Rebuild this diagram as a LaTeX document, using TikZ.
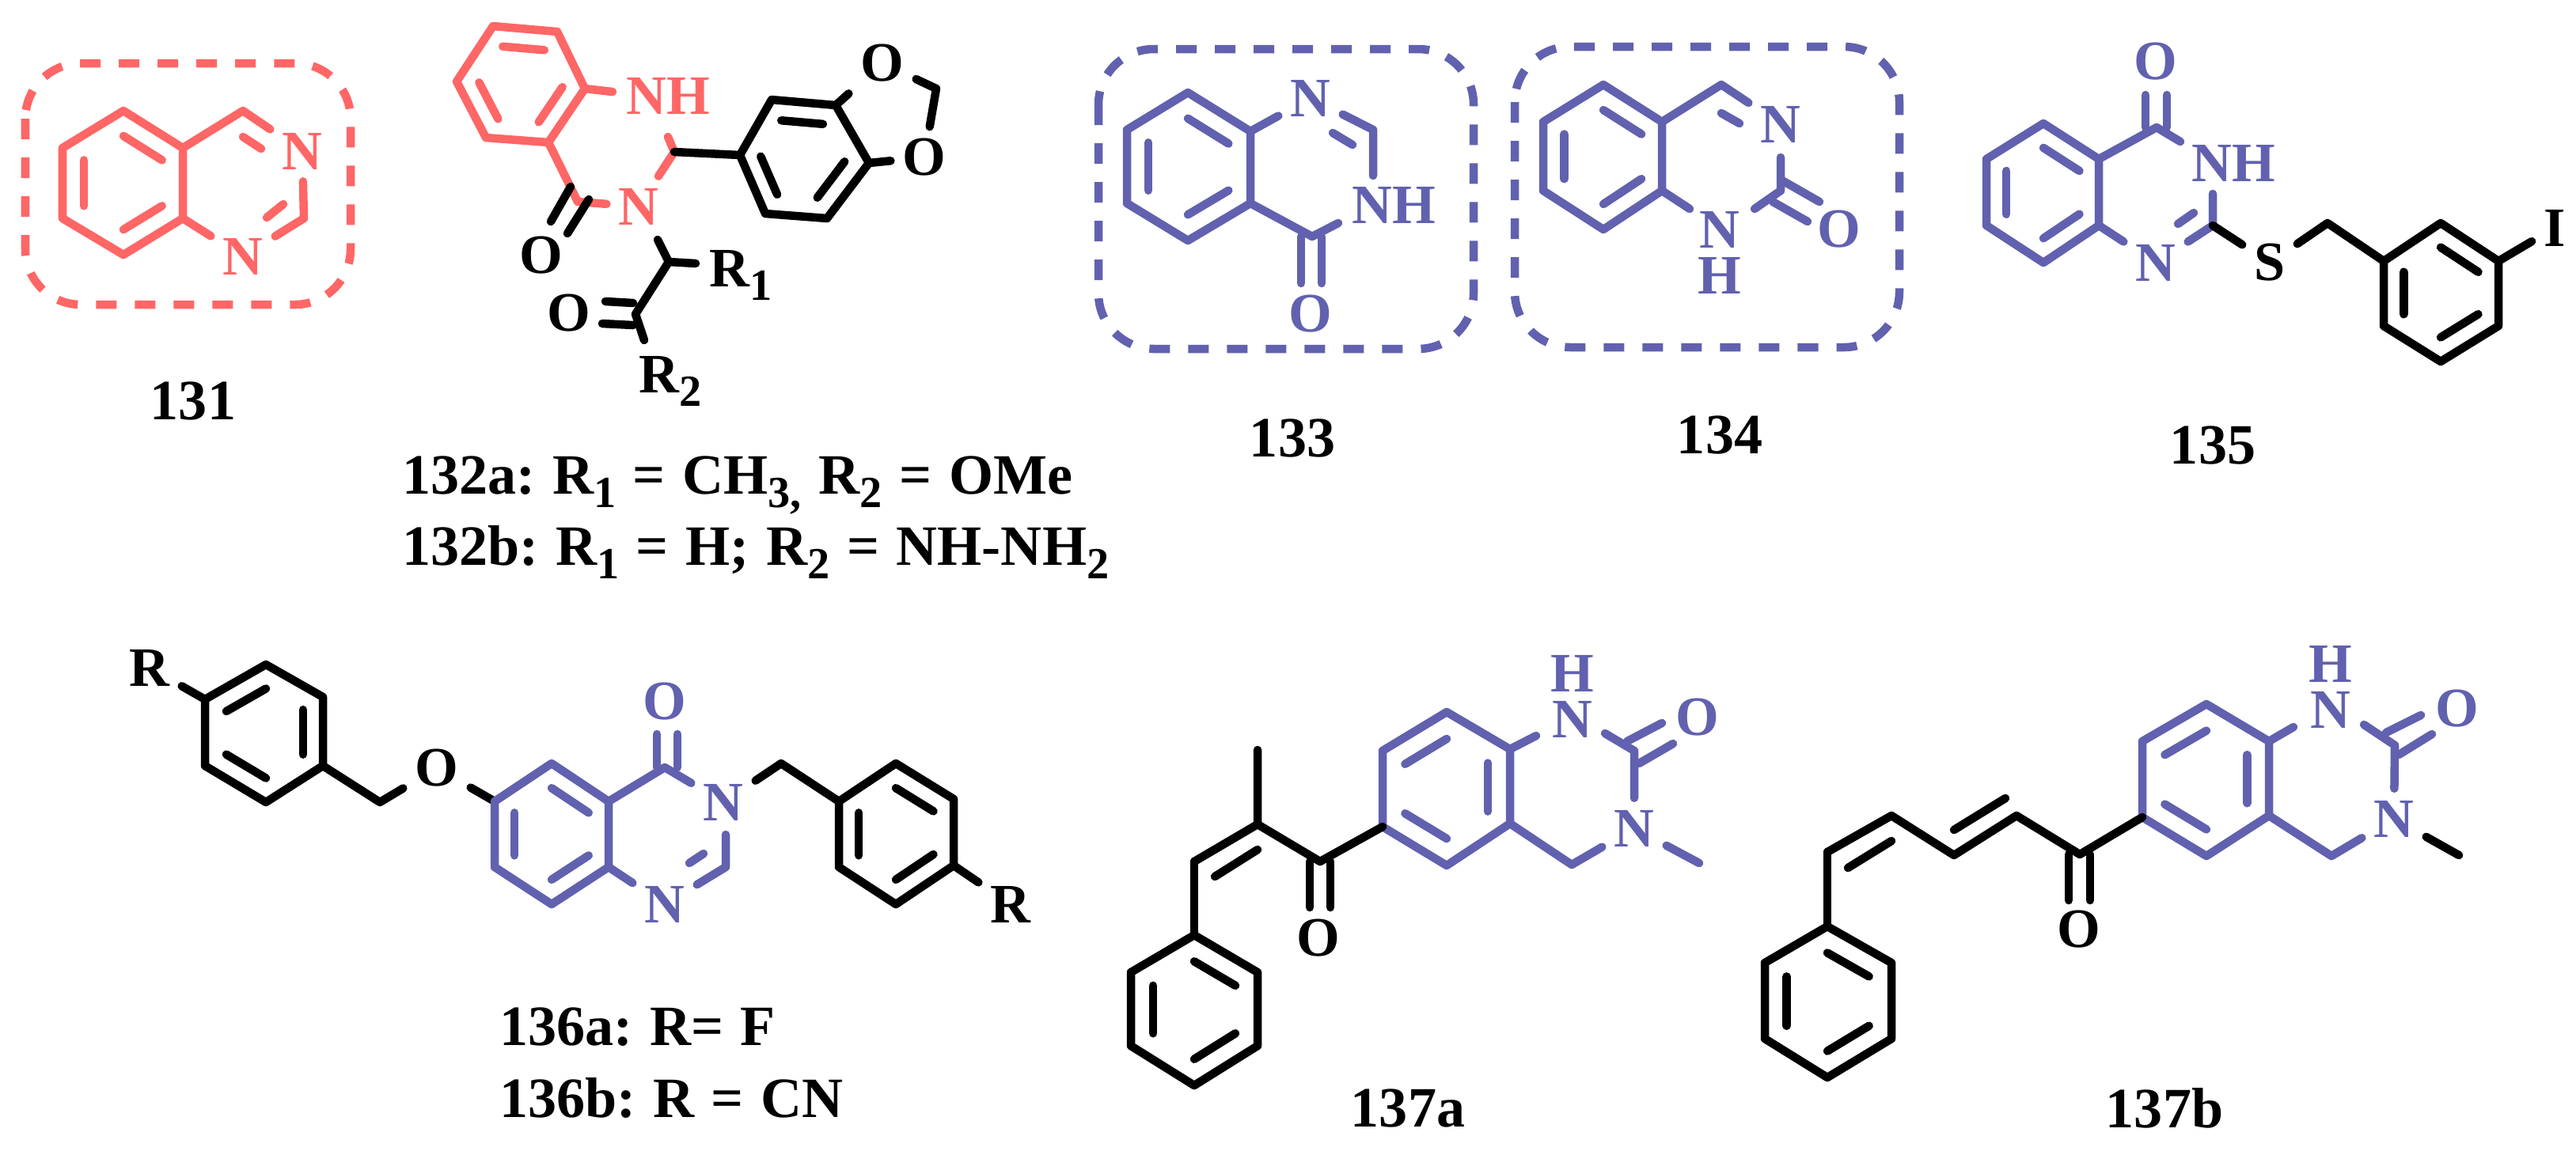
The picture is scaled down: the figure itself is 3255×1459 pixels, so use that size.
\documentclass[tikz,border=0pt]{standalone}
\usepackage{fontspec}
\setmainfont{Liberation Serif}
\usetikzlibrary{calc}
\definecolor{molred}{HTML}{FF6666}
\definecolor{molblue}{HTML}{6161AF}
\newcommand{\subs}[1]{\raisebox{-0.17cm}{\fontsize{16pt}{16pt}\selectfont #1}}
\tikzset{
	atom/.style={font=\fontsize{20pt}{24pt}\selectfont\bfseries,inner sep=0.1cm},
	stack/.style={atom,align=center,font=\fontsize{20pt}{16.5pt}\selectfont\bfseries},
	cpd/.style={font=\fontsize{20.5pt}{24pt}\selectfont\bfseries,inner sep=0pt},
	cpdline/.style={cpd,anchor=base west,execute at begin node={\frenchspacing\spaceskip=0.3em\relax}},
	boxdash/.style={line cap=butt,rounded corners=0.7cm,dash pattern=on 0.26cm off 0.23cm},
}
\begin{document}
\begin{tikzpicture}[x=0.01cm,y=-0.01cm,line width=0.105cm,line cap=round,line join=round]
\useasboundingbox (0,0) rectangle (3255,1459);
\begin{scope}
		% 131
		\coordinate (A) at (156,140);
		\coordinate (B) at (231,187);
		\coordinate (C) at (231,276);
		\coordinate (D) at (156,322);
		\coordinate (E) at (79,276);
		\coordinate (F) at (79,187);
		\coordinate (Z) at ($(A)!0.5!(D)$);
		\coordinate (G) at (307,140);
		\coordinate (H) at (384,276);
		\coordinate (I) at (307,173);
		\coordinate (J) at (330,188);
		\coordinate (K) at (337,275);
		\coordinate (L) at (358,258);
		\coordinate (P) at (32,80);
		\coordinate (Q) at (443,385);
		\node[atom,molred] (N1) at (382,191) {N};
		\node[atom,molred] (N2) at (307,324) {N};
		\draw[molred] (A) -- (B) -- (C) -- (D) -- (E) -- (F) -- cycle;
		\draw[molred] ($(A)!0.35!(Z)$) -- ($(B)!0.35!(Z)$);
		\draw[molred] ($(C)!0.35!(Z)$) -- ($(D)!0.35!(Z)$);
		\draw[molred] ($(E)!0.35!(Z)$) -- ($(F)!0.35!(Z)$);
		\draw[molred] (B) -- (G) -- (N1);
		\draw[molred] (N1) -- (H) -- (N2);
		\draw[molred] (C) -- (N2);
		\draw[molred] (I) -- (J);
		\draw[molred] (K) -- (L);
		\draw[molred,boxdash] (P) rectangle (Q);
		\node[cpd] (T131) at (244,507) {131};
\end{scope}
\begin{scope}
		% 132
		\coordinate (A) at (623,33);
		\coordinate (B) at (704,40);
		\coordinate (C) at (739,112);
		\coordinate (D) at (693,180);
		\coordinate (E) at (614,174);
		\coordinate (F) at (577,103);
		\coordinate (Z) at ($(A)!0.5!(D)$);
		\coordinate (G) at (774,116);
		\coordinate (H) at (730,255);
		\coordinate (I) at (852,192);
		\coordinate (J) at (844,173);
		\coordinate (K) at (721,236);
		\coordinate (L) at (696,280);
		\coordinate (M) at (744,252);
		\coordinate (P) at (717,295);
		\node[atom,molred] (NH1) at (844,121) {NH};
		\node[atom,molred] (N1) at (807,261) {N};
		\node[atom] (O1) at (684,323) {O};
		\draw[molred] (A) -- (B) -- (C) -- (D) -- (E) -- (F) -- cycle;
		\draw[molred] ($(A)!0.35!(Z)$) -- ($(B)!0.35!(Z)$);
		\draw[molred] ($(C)!0.35!(Z)$) -- ($(D)!0.35!(Z)$);
		\draw[molred] ($(E)!0.35!(Z)$) -- ($(F)!0.35!(Z)$);
		\draw[molred] (C) -- (G);
		\draw[molred] (D) -- (H) -- (N1);
		\draw[molred] (N1) -- (I) -- (J);
		\draw (K) -- (L);
		\draw (M) -- (P);
		% right part, black
		\coordinate (A) at (975,126);
		\coordinate (B) at (1056,133);
		\coordinate (C) at (1098,206);
		\coordinate (D) at (1045,276);
		\coordinate (E) at (967,270);
		\coordinate (F) at (935,196);
		\coordinate (Z) at ($(A)!0.5!(D)$);
		\coordinate (G) at (1183,112);
		\node[atom] (O2) at (1115,80) {O};
		\node[atom] (O3) at (1168,199) {O};
		\draw (A) -- (B) -- (C) -- (D) -- (E) -- (F) -- cycle;
		\draw ($(A)!0.35!(Z)$) -- ($(B)!0.35!(Z)$);
		\draw ($(C)!0.35!(Z)$) -- ($(D)!0.35!(Z)$);
		\draw ($(E)!0.35!(Z)$) -- ($(F)!0.35!(Z)$);
		\draw (I) -- (F);
		\draw (B) -- (O2);
		\draw (O2) -- (G) -- (O3);
		\draw (C) -- (O3);
		% side chain
		\coordinate (H) at (831,303);
		\coordinate (I) at (845,331);
		\coordinate (J) at (879,333);
		\coordinate (K) at (803,397);
		\coordinate (L) at (814,430);
		\coordinate (M) at (765,381);
		\coordinate (P) at (800,383);
		\coordinate (Q) at (761,409);
		\coordinate (R) at (800,411);
		\node[atom,anchor=base] (R1) at (936,362) {R\subs{1}};
		\node[atom,anchor=base] (R2) at (847,496) {R\subs{2}};
		\node[atom] (O4) at (719,396) {O};
		\draw (H) -- (I) -- (J);
		\draw (I) -- (K) -- (L);
		\draw (M) -- (P);
		\draw (Q) -- (R);
		\node[cpdline] (T132a) at (503,624) {132a: R\subs{1} = CH\subs{3,} R\subs{2} = OMe};
		\node[cpdline] (T132b) at (503,714) {132b: R\subs{1} = H; R\subs{2} = NH-NH\subs{2}};
\end{scope}
\begin{scope}
		% 133
		\coordinate (A) at (1501,117);
		\coordinate (B) at (1580,166);
		\coordinate (C) at (1580,257);
		\coordinate (D) at (1501,304);
		\coordinate (E) at (1424,257);
		\coordinate (F) at (1424,164);
		\coordinate (Z) at ($(A)!0.5!(D)$);
		\coordinate (G) at (1735,164);
		\coordinate (H) at (1735,222);
		\coordinate (I) at (1684,168);
		\coordinate (J) at (1709,183);
		\coordinate (K) at (1658,299);
		\coordinate (L) at (1691,282);
		\coordinate (M) at (1644,299);
		\coordinate (P) at (1644,358);
		\coordinate (Q) at (1670,299);
		\coordinate (R) at (1670,358);
		\coordinate (S) at (1388,62);
		\coordinate (T) at (1862,441);
		\node[atom,molblue] (N1) at (1656,124) {N};
		\node[atom,molblue] (NH1) at (1761,259) {NH};
		\node[atom,molblue] (O1) at (1656,397) {O};
		\draw[molblue] (A) -- (B) -- (C) -- (D) -- (E) -- (F) -- cycle;
		\draw[molblue] ($(A)!0.35!(Z)$) -- ($(B)!0.35!(Z)$);
		\draw[molblue] ($(C)!0.35!(Z)$) -- ($(D)!0.35!(Z)$);
		\draw[molblue] ($(E)!0.35!(Z)$) -- ($(F)!0.35!(Z)$);
		\draw[molblue] (B) -- (N1);
		\draw[molblue] (N1) -- (G) -- (H);
		\draw[molblue] (I) -- (J);
		\draw[molblue] (C) -- (K) -- (L);
		\draw[molblue] (M) -- (P);
		\draw[molblue] (Q) -- (R);
		\draw[molblue,boxdash] (S) rectangle (T);
		\node[cpd] (T133) at (1633,554) {133};
\end{scope}
\begin{scope}
		% 134
		\coordinate (A) at (2026,107);
		\coordinate (B) at (2100,154);
		\coordinate (C) at (2100,241);
		\coordinate (D) at (2026,290);
		\coordinate (E) at (1950,241);
		\coordinate (F) at (1950,154);
		\coordinate (Z) at ($(A)!0.5!(D)$);
		\coordinate (G) at (2175,107);
		\coordinate (I) at (2175,143);
		\coordinate (J) at (2198,156);
		\coordinate (H) at (2250,199);
		\coordinate (K) at (2250,241);
		\coordinate (L) at (2250,227);
		\coordinate (M) at (2299,255);
		\coordinate (P) at (2240,255);
		\coordinate (Q) at (2284,280);
		\coordinate (R) at (2135,264);
		\coordinate (U) at (2217,264);
		\coordinate (S) at (1914,59);
		\coordinate (T) at (2400,439);
		\node[atom,molblue] (N1) at (2250,157) {N};
		\node[stack,molblue] (NH2) at (2173,319) {N\\H};
		\node[atom,molblue] (O1) at (2324,290) {O};
		\draw[molblue] (A) -- (B) -- (C) -- (D) -- (E) -- (F) -- cycle;
		\draw[molblue] ($(A)!0.35!(Z)$) -- ($(B)!0.35!(Z)$);
		\draw[molblue] ($(C)!0.35!(Z)$) -- ($(D)!0.35!(Z)$);
		\draw[molblue] ($(E)!0.35!(Z)$) -- ($(F)!0.35!(Z)$);
		\draw[molblue] (B) -- (G) -- (N1);
		\draw[molblue] (I) -- (J);
		\draw[molblue] (H) -- (K) -- (U);
		\draw[molblue] (C) -- (R);
		\draw[molblue] (L) -- (M);
		\draw[molblue] (P) -- (Q);
		\draw[molblue,boxdash] (S) rectangle (T);
		\node[cpd] (T134) at (2173,550) {134};
\end{scope}
\begin{scope}
		% 135
		\coordinate (A) at (2582,156);
		\coordinate (B) at (2652,201);
		\coordinate (C) at (2652,285);
		\coordinate (D) at (2582,332);
		\coordinate (E) at (2510,285);
		\coordinate (F) at (2510,201);
		\coordinate (Z) at ($(A)!0.5!(D)$);
		\coordinate (G) at (2725,161);
		\coordinate (H) at (2755,179);
		\coordinate (I) at (2711,120);
		\coordinate (J) at (2711,161);
		\coordinate (K) at (2738,120);
		\coordinate (L) at (2738,161);
		\coordinate (M) at (2796,245);
		\coordinate (P) at (2796,285);
		\coordinate (Q) at (2752,283);
		\coordinate (R) at (2772,269);
		\node[atom,molblue] (NH1) at (2822,206) {NH};
		\node[atom,molblue] (N1) at (2724,332) {N};
		\node[atom,molblue] (O1) at (2724,78) {O};
		\node[atom] (S1) at (2868,332) {S};
		\node[atom] (I1) at (3228,288) {I};
		\draw[molblue] (A) -- (B) -- (C) -- (D) -- (E) -- (F) -- cycle;
		\draw[molblue] ($(A)!0.35!(Z)$) -- ($(B)!0.35!(Z)$);
		\draw[molblue] ($(C)!0.35!(Z)$) -- ($(D)!0.35!(Z)$);
		\draw[molblue] ($(E)!0.35!(Z)$) -- ($(F)!0.35!(Z)$);
		\draw[molblue] (B) -- (G) -- (H);
		\draw[molblue] (I) -- (J);
		\draw[molblue] (K) -- (L);
		\draw[molblue] (C) -- (N1);
		\draw[molblue] (M) -- (P) -- (N1);
		\draw[molblue] (Q) -- (R);
		\draw (P) -- (S1);
		\coordinate (A) at (3084,282);
		\coordinate (B) at (3157,330);
		\coordinate (C) at (3157,412);
		\coordinate (D) at (3084,457);
		\coordinate (E) at (3012,412);
		\coordinate (F) at (3012,330);
		\coordinate (Z) at ($(A)!0.5!(D)$);
		\coordinate (G) at (2941,282);
		\draw (A) -- (B) -- (C) -- (D) -- (E) -- (F) -- cycle;
		\draw ($(A)!0.35!(Z)$) -- ($(B)!0.35!(Z)$);
		\draw ($(C)!0.35!(Z)$) -- ($(D)!0.35!(Z)$);
		\draw ($(E)!0.35!(Z)$) -- ($(F)!0.35!(Z)$);
		\draw (S1) -- (G) -- (F);
		\draw (B) -- (I1);
		\node[cpd] (T135) at (2796,563) {135};
\end{scope}
\begin{scope}
		% 136
		\coordinate (A) at (336,840);
		\coordinate (B) at (408,881);
		\coordinate (C) at (408,968);
		\coordinate (D) at (336,1014);
		\coordinate (E) at (259,968);
		\coordinate (F) at (259,884);
		\coordinate (Z) at ($(A)!0.5!(D)$);
		\coordinate (G) at (480,1014);
		\node[atom] (R1) at (189,844) {R};
		\node[atom] (O1) at (552,971) {O};
		\draw (A) -- (B) -- (C) -- (D) -- (E) -- (F) -- cycle;
		\draw ($(A)!0.35!(Z)$) -- ($(F)!0.35!(Z)$);
		\draw ($(B)!0.35!(Z)$) -- ($(C)!0.35!(Z)$);
		\draw ($(D)!0.35!(Z)$) -- ($(E)!0.35!(Z)$);
		\draw (F) -- (R1);
		\draw (C) -- (G) -- (O1);
		\coordinate (A) at (697,965);
		\coordinate (B) at (769,1013);
		\coordinate (C) at (769,1096);
		\coordinate (D) at (697,1143);
		\coordinate (E) at (625,1096);
		\coordinate (F) at (625,1013);
		\coordinate (Z) at ($(A)!0.5!(D)$);
		\coordinate (G) at (840,970);
		\coordinate (H) at (830,928);
		\coordinate (I) at (830,970);
		\coordinate (J) at (856,928);
		\coordinate (K) at (856,970);
		\coordinate (L) at (917,1096);
		\coordinate (M) at (917,1055);
		\coordinate (P) at (871,1091);
		\coordinate (Q) at (889,1079);
		\node[atom,molblue] (O2) at (840,887) {O};
		\node[atom,molblue] (N1) at (914,1014) {N};
		\node[atom,molblue] (N2) at (840,1143) {N};
		\draw (O1) -- (F);
		\draw[molblue] (A) -- (B) -- (C) -- (D) -- (E) -- (F) -- cycle;
		\draw[molblue] ($(A)!0.35!(Z)$) -- ($(B)!0.35!(Z)$);
		\draw[molblue] ($(C)!0.35!(Z)$) -- ($(D)!0.35!(Z)$);
		\draw[molblue] ($(E)!0.35!(Z)$) -- ($(F)!0.35!(Z)$);
		\draw[molblue] (B) -- (G) -- (N1);
		\draw[molblue] (H) -- (I);
		\draw[molblue] (J) -- (K);
		\draw[molblue] (C) -- (N2);
		\draw[molblue] (N2) -- (L) -- (M);
		\draw[molblue] (P) -- (Q);
		\coordinate (A) at (1132,965);
		\coordinate (B) at (1205,1010);
		\coordinate (C) at (1205,1094);
		\coordinate (D) at (1132,1143);
		\coordinate (E) at (1060,1096);
		\coordinate (F) at (1060,1013);
		\coordinate (Z) at ($(A)!0.5!(D)$);
		\coordinate (G) at (987,965);
		\node[atom] (R2) at (1277,1143) {R};
		\draw (A) -- (B) -- (C) -- (D) -- (E) -- (F) -- cycle;
		\draw ($(A)!0.35!(Z)$) -- ($(B)!0.35!(Z)$);
		\draw ($(C)!0.35!(Z)$) -- ($(D)!0.35!(Z)$);
		\draw ($(E)!0.35!(Z)$) -- ($(F)!0.35!(Z)$);
		\draw (N1) -- (G) -- (F);
		\draw (C) -- (R2);
		\node[cpdline] (T136a) at (626,1321) {136a: R= F};
		\node[cpdline] (T136b) at (626,1412) {136b: R = CN};
\end{scope}
\begin{scope}
		% 137a
		\coordinate (A) at (1828,900);
		\coordinate (B) at (1908,947);
		\coordinate (C) at (1908,1041);
		\coordinate (D) at (1828,1094);
		\coordinate (E) at (1747,1045);
		\coordinate (F) at (1747,949);
		\coordinate (Z) at ($(A)!0.5!(D)$);
		\coordinate (G) at (2065,949);
		\coordinate (H) at (2056,937);
		\coordinate (I) at (2100,914);
		\coordinate (J) at (2071,965);
		\coordinate (K) at (2114,940);
		\coordinate (L) at (1986,1093);
		\coordinate (M) at (2147,1091);
		\coordinate (P) at (1941,930);
		\coordinate (Q) at (2028,927);
		\node[stack,molblue] (NH1) at (1987,880) {H\\N};
		\node[atom,molblue] (O1) at (2145,907) {O};
		\node[atom,molblue] (N2) at (2065,1047) {N};
		\draw[molblue] (A) -- (B) -- (C) -- (D) -- (E) -- (F) -- cycle;
		\draw[molblue] ($(A)!0.35!(Z)$) -- ($(F)!0.35!(Z)$);
		\draw[molblue] ($(B)!0.35!(Z)$) -- ($(C)!0.35!(Z)$);
		\draw[molblue] ($(D)!0.35!(Z)$) -- ($(E)!0.35!(Z)$);
		\draw[molblue] (B) -- (P);
		\draw[molblue] (Q) -- (G) -- (N2);
		\draw[molblue] (H) -- (I);
		\draw[molblue] (J) -- (K);
		\draw[molblue] (C) -- (L) -- (N2);
		\draw[molblue] (N2) -- (M);
		\coordinate (G) at (1668,1089);
		\coordinate (H) at (1589,1042);
		\coordinate (I) at (1589,948);
		\coordinate (J) at (1509,1089);
		\coordinate (K) at (1589,1074);
		\coordinate (L) at (1535,1108);
		\coordinate (M) at (1655,1089);
		\coordinate (P) at (1655,1147);
		\coordinate (Q) at (1681,1089);
		\coordinate (R) at (1681,1147);
		\node[atom] (O2) at (1666,1186) {O};
		\draw (E) -- (G) -- (H) -- (I);
		\draw (H) -- (J);
		\draw (K) -- (L);
		\draw (M) -- (P);
		\draw (Q) -- (R);
		\coordinate (A) at (1509,1182);
		\coordinate (B) at (1589,1229);
		\coordinate (C) at (1589,1322);
		\coordinate (D) at (1509,1372);
		\coordinate (E) at (1429,1322);
		\coordinate (F) at (1429,1229);
		\coordinate (Z) at ($(A)!0.5!(D)$);
		\draw (A) -- (B) -- (C) -- (D) -- (E) -- (F) -- cycle;
		\draw ($(A)!0.35!(Z)$) -- ($(B)!0.35!(Z)$);
		\draw ($(C)!0.35!(Z)$) -- ($(D)!0.35!(Z)$);
		\draw ($(E)!0.35!(Z)$) -- ($(F)!0.35!(Z)$);
		\draw (J) -- (A);
		\node[cpd] (T137a) at (1779,1401) {137a};
\end{scope}
\begin{scope}
		% 137b
		\coordinate (A) at (2788,890);
		\coordinate (B) at (2867,937);
		\coordinate (C) at (2867,1031);
		\coordinate (D) at (2788,1082);
		\coordinate (E) at (2707,1033);
		\coordinate (F) at (2707,937);
		\coordinate (Z) at ($(A)!0.5!(D)$);
		\coordinate (G) at (3026,942);
		\coordinate (H) at (3015,926);
		\coordinate (I) at (3059,904);
		\coordinate (J) at (3031,954);
		\coordinate (K) at (3073,928);
		\coordinate (L) at (2946,1082);
		\coordinate (M) at (3107,1081);
		\coordinate (P) at (2898,919);
		\coordinate (Q) at (2987,916);
		\node[stack,molblue] (NH1) at (2945,868) {H\\N};
		\node[atom,molblue] (O1) at (3105,896) {O};
		\node[atom,molblue] (N2) at (3025,1035) {N};
		\draw[molblue] (A) -- (B) -- (C) -- (D) -- (E) -- (F) -- cycle;
		\draw[molblue] ($(A)!0.35!(Z)$) -- ($(F)!0.35!(Z)$);
		\draw[molblue] ($(B)!0.35!(Z)$) -- ($(C)!0.35!(Z)$);
		\draw[molblue] ($(D)!0.35!(Z)$) -- ($(E)!0.35!(Z)$);
		\draw[molblue] (B) -- (P);
		\draw[molblue] (Q) -- (G) -- (N2);
		\draw[molblue] (H) -- (I);
		\draw[molblue] (J) -- (K);
		\draw[molblue] (C) -- (L) -- (N2);
		\draw (N2) -- (M);
		\coordinate (G) at (2628,1080);
		\coordinate (H) at (2548,1031);
		\coordinate (I) at (2469,1081);
		\coordinate (J) at (2390,1031);
		\coordinate (K) at (2309,1077);
		\coordinate (L) at (2534,1009);
		\coordinate (M) at (2469,1049);
		\coordinate (P) at (2390,1063);
		\coordinate (Q) at (2335,1097);
		\coordinate (R) at (2614,1080);
		\coordinate (S) at (2614,1138);
		\coordinate (T) at (2641,1080);
		\coordinate (U) at (2641,1138);
		\node[atom] (O2) at (2627,1175) {O};
		\draw (E) -- (G) -- (H) -- (I) -- (J) -- (K);
		\draw (L) -- (M);
		\draw (P) -- (Q);
		\draw (R) -- (S);
		\draw (T) -- (U);
		\coordinate (A) at (2309,1171);
		\coordinate (B) at (2390,1217);
		\coordinate (C) at (2390,1313);
		\coordinate (D) at (2309,1362);
		\coordinate (E) at (2230,1313);
		\coordinate (F) at (2230,1217);
		\coordinate (Z) at ($(A)!0.5!(D)$);
		\draw (A) -- (B) -- (C) -- (D) -- (E) -- (F) -- cycle;
		\draw ($(A)!0.35!(Z)$) -- ($(B)!0.35!(Z)$);
		\draw ($(C)!0.35!(Z)$) -- ($(D)!0.35!(Z)$);
		\draw ($(E)!0.35!(Z)$) -- ($(F)!0.35!(Z)$);
		\draw (K) -- (A);
		\node[cpd] (T137b) at (2735,1401) {137b};
\end{scope}
\end{tikzpicture}
\end{document}
